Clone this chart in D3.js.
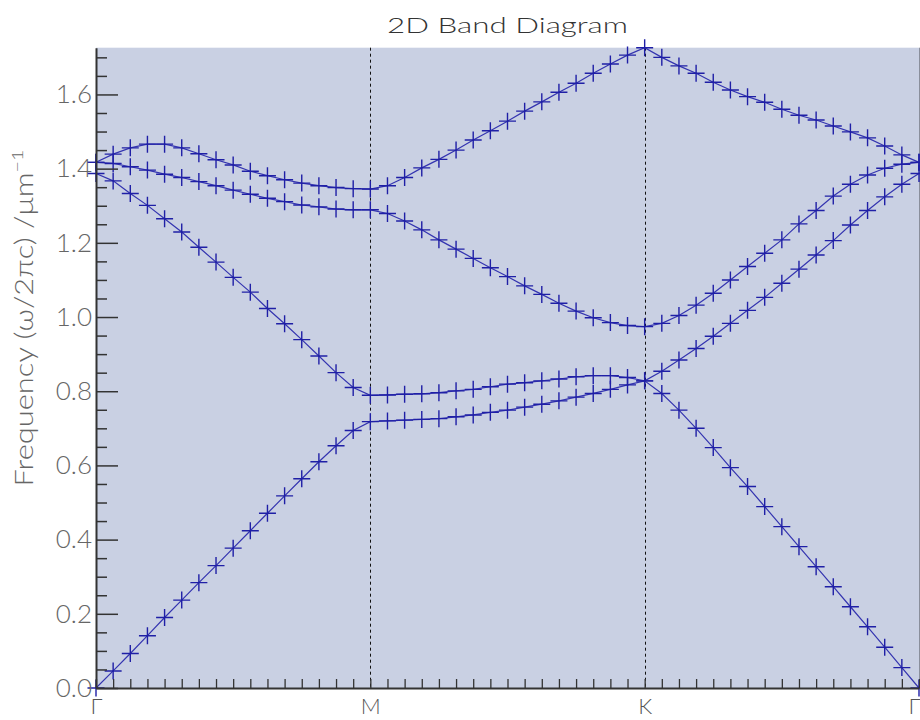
<!DOCTYPE html>
<html>
<head>
<meta charset="utf-8">
<script src="https://cdn.jsdelivr.net/npm/d3@7"></script>
<style>
  html, body { margin: 0; padding: 0; background: #fff; }
  svg { display: block; }
</style>
</head>
<body>
<svg id="chart" width="920" height="720"></svg>
<script>
// High-symmetry points along the path Γ → M → K → Γ (index of k-point)
const kLabels = ["Γ", "M", "K", "Γ"];
const kPositions = [0, 16, 32, 48];

// Band frequencies (ω/2πc, µm⁻¹) at each of the 49 k-points
const band1 = [0.000, 0.046, 0.093, 0.141, 0.190, 0.237, 0.284, 0.330, 0.377, 0.424,
               0.471, 0.518, 0.564, 0.610, 0.653, 0.694, 0.718, 0.720, 0.722, 0.724,
               0.726, 0.731, 0.736, 0.743, 0.749, 0.757, 0.765, 0.774, 0.784, 0.794,
               0.805, 0.817, 0.828, 0.794, 0.749, 0.700, 0.648, 0.594, 0.543, 0.489,
               0.435, 0.381, 0.327, 0.273, 0.219, 0.165, 0.110, 0.055, 0.000];
const band2 = [1.387, 1.367, 1.333, 1.301, 1.265, 1.229, 1.188, 1.148, 1.107, 1.067,
               1.023, 0.982, 0.939, 0.895, 0.850, 0.810, 0.789, 0.790, 0.792, 0.793,
               0.796, 0.801, 0.805, 0.812, 0.819, 0.823, 0.828, 0.833, 0.839, 0.842,
               0.842, 0.837, 0.828, 0.854, 0.884, 0.915, 0.948, 0.983, 1.018, 1.053,
               1.091, 1.129, 1.167, 1.206, 1.248, 1.287, 1.324, 1.358, 1.387];
const band3 = [1.417, 1.414, 1.405, 1.396, 1.385, 1.376, 1.365, 1.354, 1.342, 1.331,
               1.320, 1.311, 1.302, 1.297, 1.291, 1.289, 1.289, 1.279, 1.259, 1.235,
               1.208, 1.183, 1.158, 1.133, 1.109, 1.084, 1.061, 1.037, 1.016, 0.998,
               0.985, 0.977, 0.974, 0.983, 1.004, 1.032, 1.064, 1.100, 1.136, 1.172,
               1.208, 1.251, 1.287, 1.326, 1.358, 1.383, 1.401, 1.412, 1.417];
const band4 = [1.417, 1.439, 1.456, 1.466, 1.466, 1.456, 1.440, 1.424, 1.410, 1.393,
               1.381, 1.370, 1.361, 1.354, 1.349, 1.346, 1.345, 1.354, 1.376, 1.402,
               1.425, 1.450, 1.477, 1.502, 1.528, 1.555, 1.580, 1.606, 1.630, 1.657,
               1.682, 1.706, 1.726, 1.700, 1.677, 1.657, 1.633, 1.612, 1.594, 1.579,
               1.560, 1.544, 1.531, 1.515, 1.499, 1.483, 1.461, 1.437, 1.417];

// Axis ticks
const yMajorTicks = [0.0, 0.2, 0.4, 0.6, 0.8, 1.0, 1.2, 1.4, 1.6];
const yMinorTicks = [0.05, 0.10, 0.15, 0.25, 0.30, 0.35, 0.45, 0.50, 0.55, 0.65, 0.70, 0.75,
                     0.85, 0.90, 0.95, 1.05, 1.10, 1.15, 1.25, 1.30, 1.35, 1.45, 1.50, 1.55,
                     1.65, 1.70];
const yMax = 1.726;

(function () {
  const bands = [band1, band2, band3, band4];
  const nK = band1.length - 1;

  const svg = d3.select("#chart");
  const FONT = "Lato, 'Open Sans', 'DejaVu Sans', sans-serif";

  const plotLeft = 96, plotRight = 919, plotTop = 47.7, plotBottom = 688;
  const x = d3.scaleLinear().domain([0, nK]).range([plotLeft, plotRight]);
  const y = d3.scaleLinear().domain([0, yMax]).range([plotBottom, plotTop]);

  // Stretch a text horizontally (along its own baseline) to a given width,
  // giving the wide geometric look of the labels.
  function stretchTo(sel, width, cx, cy, angle) {
    const natural = sel.node().getComputedTextLength();
    const s = width / natural;
    sel.attr("transform", `translate(${cx},${cy}) rotate(${angle}) scale(${s},1)`);
  }

  // Plot background
  svg.append("rect")
    .attr("x", x(0)).attr("y", y(yMax))
    .attr("width", x(nK) - x(0)).attr("height", y(0) - y(yMax))
    .attr("fill", "#c9d0e3");

  // Right frame edge
  svg.append("line")
    .attr("x1", x(nK) + 0.5).attr("x2", x(nK) + 0.5)
    .attr("y1", y(yMax)).attr("y2", y(0))
    .attr("stroke", "#8a8f9c").attr("stroke-width", 1);

  // Dashed dividers at the interior symmetry points
  svg.append("g").selectAll("line")
    .data(kPositions.slice(1, -1))
    .join("line")
    .attr("x1", d => Math.round(x(d)) + 0.5).attr("x2", d => Math.round(x(d)) + 0.5)
    .attr("y1", y(yMax)).attr("y2", y(0))
    .attr("stroke", "#111").attr("stroke-width", 1)
    .attr("stroke-dasharray", "3,3");

  // Band lines
  const line = d3.line().x((d, i) => x(i)).y(d => y(d));
  svg.append("g").selectAll("path")
    .data(bands)
    .join("path")
    .attr("d", line)
    .attr("fill", "none")
    .attr("stroke", "#3434b0")
    .attr("stroke-width", 1.2);

  // Plus markers at every k-point
  const plus = "M-8.5,0H8.5M0,-8.5V8.5";
  const markerG = svg.append("g");
  bands.forEach(b => {
    markerG.append("g").selectAll("path")
      .data(b)
      .join("path")
      .attr("transform", (d, i) => `translate(${x(i)},${y(d)})`)
      .attr("d", plus)
      .attr("fill", "none")
      .attr("stroke", "#1f1fa6")
      .attr("stroke-width", 1.4);
  });

  // Left axis: major ticks with labels
  const gY = svg.append("g")
    .attr("transform", `translate(${x(0)},0)`)
    .call(d3.axisLeft(y).tickValues(yMajorTicks).tickSize(-22).tickSizeOuter(0)
          .tickPadding(4).tickFormat(d3.format(".1f")));
  gY.select(".domain").attr("stroke", "#333").attr("stroke-width", 2);
  gY.selectAll(".tick line").attr("stroke", "#333").attr("stroke-width", 1.5);
  gY.selectAll(".tick text")
    .attr("font-family", FONT).attr("font-size", 26).attr("font-weight", 300)
    .attr("fill", "#666");

  // Left axis: minor ticks
  const gYm = svg.append("g")
    .attr("transform", `translate(${x(0)},0)`)
    .call(d3.axisLeft(y).tickValues(yMinorTicks).tickSize(-11).tickFormat(""));
  gYm.select(".domain").remove();
  gYm.selectAll(".tick line").attr("stroke", "#333").attr("stroke-width", 1.5);

  // Bottom axis: a tick at every k-point
  const gX = svg.append("g")
    .attr("transform", `translate(0,${y(0)})`)
    .call(d3.axisBottom(x).tickValues(d3.range(0, nK + 1)).tickSize(-9).tickSizeOuter(0)
          .tickFormat(""));
  gX.select(".domain").attr("stroke", "#333").attr("stroke-width", 2);
  gX.selectAll(".tick line").attr("stroke", "#333").attr("stroke-width", 1.3);

  // Bottom axis: symmetry-point labels
  const gXl = svg.append("g")
    .attr("transform", `translate(0,${y(0)})`)
    .call(d3.axisBottom(x).tickValues(kPositions).tickSize(0).tickPadding(10)
          .tickFormat((d, i) => kLabels[i]));
  gXl.select(".domain").remove();
  gXl.selectAll(".tick text")
    .attr("font-family", FONT).attr("font-size", 22).attr("font-weight", 300)
    .attr("fill", "#555");
  // keep the closing Γ inside the right edge
  gXl.selectAll(".tick text").filter((d, i) => i === kPositions.length - 1)
    .attr("text-anchor", "end").attr("dx", 1);

  // Title
  const title = svg.append("text")
    .attr("text-anchor", "middle")
    .attr("font-family", FONT).attr("font-size", 22).attr("font-weight", 300)
    .attr("fill", "#333")
    .text("2D Band Diagram");
  stretchTo(title, 241, (plotLeft + plotRight) / 2, 33, 0);

  // Y-axis title
  const yTitle = svg.append("text")
    .attr("text-anchor", "middle")
    .attr("font-family", FONT).attr("font-size", 25).attr("font-weight", 300)
    .attr("fill", "#666");
  yTitle.append("tspan").text("Frequency (ω/2πc) /μm");
  yTitle.append("tspan").attr("baseline-shift", "super").attr("font-size", 16).text("−1");
  stretchTo(yTitle, 337, 33, 318, -90);
})();
</script>
</body>
</html>
